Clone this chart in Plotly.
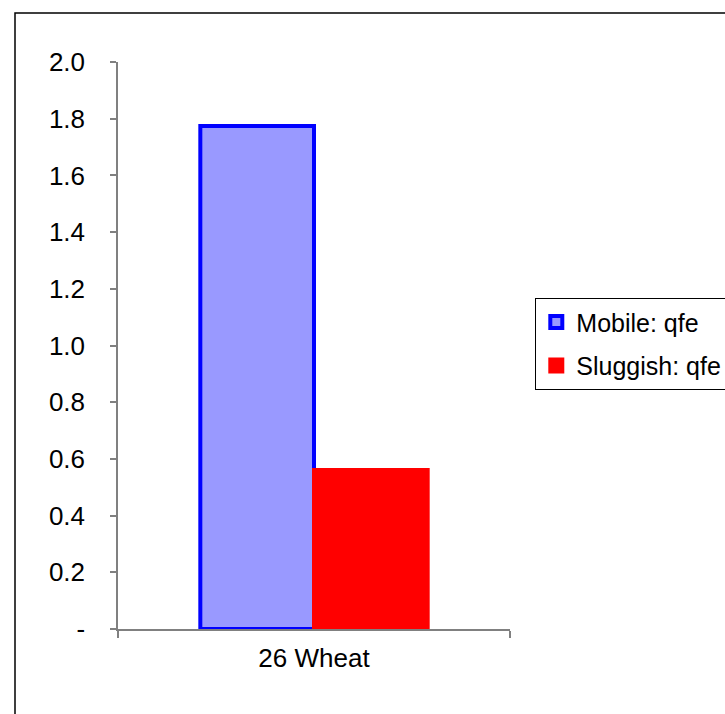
import plotly.graph_objects as go

categories = ["26 Wheat"]
series_names = ["Mobile: qfe", "Sluggish: qfe"]
mobile_values = [1.774]
sluggish_values = [0.561]
tick_values = [0, 0.2, 0.4, 0.6, 0.8, 1.0, 1.2, 1.4, 1.6, 1.8, 2.0]
tick_labels = ["-", "0.2", "0.4", "0.6", "0.8", "1.0", "1.2", "1.4", "1.6", "1.8", "2.0"]

FONT = "Liberation Sans, Arial, sans-serif"

fig = go.Figure()
fig.add_trace(go.Bar(
    x=categories, y=mobile_values, name=series_names[0], legendgroup="a",
    marker=dict(color="#9999FF", line=dict(color="#0000FF", width=4)),
))
fig.add_trace(go.Bar(
    x=categories, y=sluggish_values, name=series_names[1], legendgroup="b",
    marker=dict(color="#FF0000", line=dict(color="#FF0000", width=4)),
))

W, H = 725, 714
L, R, T, B = 118, 510, 62, 629
pw, ph = R - L, B - T

def px_x(p):
    return (p - L) / pw

def px_y(p):
    return (B - p) / ph

fig.add_shape(type="rect", xref="paper", yref="paper",
              x0=px_x(15), x1=px_x(740), y0=px_y(730), y1=px_y(13),
              line=dict(color="black", width=1.5), fillcolor="rgba(0,0,0,0)", layer="below")

fig.update_layout(
    width=W, height=H, autosize=False,
    margin=dict(l=L, r=W - R, t=T, b=H - B, pad=0),
    paper_bgcolor="white", plot_bgcolor="white",
    font=dict(family=FONT, size=26, color="black"),
    barmode="group", bargap=0.42, bargroupgap=0,
    showlegend=True,
    legend=dict(
        xref="container", yref="container",
        x=535 / W, y=1 - 298 / H, xanchor="left", yanchor="top",
        bordercolor="black", borderwidth=1.3, bgcolor="white",
        font=dict(family=FONT, size=25, color="black"),
        traceorder="grouped", tracegroupgap=8,
    ),
    xaxis=dict(
        showline=True, linecolor="#808080", linewidth=1.5,
        ticks="outside", tickson="boundaries", ticklen=7, tickcolor="#808080", tickwidth=1.5,
        showgrid=False, zeroline=False, ticklabelstandoff=5,
        tickfont=dict(family=FONT, size=26, color="black"),
    ),
    yaxis=dict(
        range=[0, 2.0], tickvals=tick_values, ticktext=tick_labels,
        showline=True, linecolor="#808080", linewidth=1.5,
        ticks="outside", ticklen=6, tickcolor="#808080", tickwidth=1.5,
        showgrid=False, zeroline=False, ticklabelstandoff=20,
        tickfont=dict(family=FONT, size=26, color="black"),
    ),
)

fig.write_html(
    "out.html",
    config={"displayModeBar": False, "responsive": False},
    post_script="document.body.style.margin='0';document.body.style.overflow='hidden';",
)
